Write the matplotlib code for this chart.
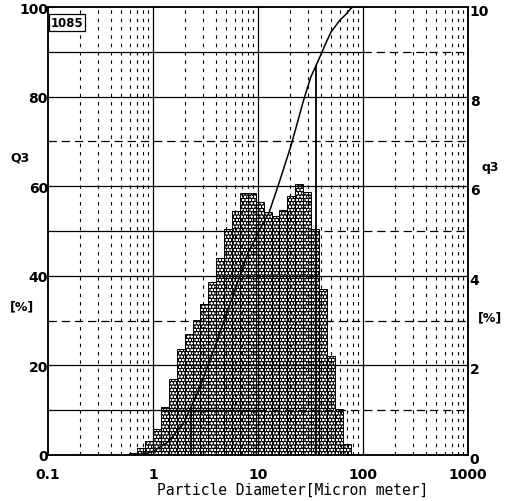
import numpy as np
import matplotlib
matplotlib.use("Agg")
import matplotlib.pyplot as plt

# ---------------- data ----------------
size_edges = [0.59, 0.71, 0.84, 1.00, 1.19, 1.41, 1.68, 2.00, 2.38, 2.83, 3.36,
              4.00, 4.76, 5.66, 6.73, 8.00, 9.51, 11.31, 13.45, 16.00, 19.03,
              22.63, 26.91, 32.00, 38.05, 45.25, 53.82, 64.00, 76.11]
q3_values = [0.05, 0.15, 0.32, 0.58, 1.07, 1.70, 2.37, 2.70, 3.02, 3.37, 3.86,
             4.40, 5.05, 5.45, 5.85, 5.85, 5.65, 5.42, 5.33, 5.47, 5.78, 6.05,
             5.87, 5.04, 3.70, 2.20, 1.03, 0.25]

curve_d = [0.59, 0.84, 1.0, 1.41, 2.0, 2.83, 4.0, 5.66, 8.0, 11.31, 12.7, 16.0,
           20.6, 27.4, 32.0, 38.1, 45.0, 49.6, 60.0, 68.9, 76.0, 80.0]
curve_Q3 = [0, 0.3, 0.8, 3.0, 7.5, 15.5, 25, 35, 45, 52, 54, 61,
            69, 79.5, 84.5, 88.4, 92.3, 94.4, 97, 98.4, 99.6, 100]

marker_d = [2.3, 35.7]          # x10 and x90 markers

x_ticks = [0.1, 1, 10, 100, 1000]
x_tick_labels = ["0.1", "1", "10", "100", "1000"]
left_ticks = [0, 20, 40, 60, 80, 100]
right_ticks = [0, 2, 4, 6, 8, 10]
sample_id = "1085"

# ---------------- styling ----------------
plt.rcParams["lines.scale_dashes"] = False
plt.rcParams["hatch.linewidth"] = 0.55
num_font = ["Liberation Sans Narrow", "DejaVu Sans"]

W, H = 506, 502
fig = plt.figure(figsize=(W / 100, H / 100), dpi=100)
ax = fig.add_axes([48 / W, 1 - 456 / H, 420 / W, 448 / H])
ax.set_xscale("log")
ax.set_xlim(0.1, 1000)
ax.set_ylim(0, 100)

# vertical grid
for dec in [0.1, 1, 10, 100]:
    for m in range(2, 10):
        ax.axvline(m * dec, color="black", lw=0.8, ls=(0, (2.5, 3.5)), zorder=1)
    if dec > 0.1:
        ax.axvline(dec, color="black", lw=0.9, zorder=1)

# horizontal grid
for lv in [20, 40, 60, 80]:
    ax.axhline(lv, color="black", lw=0.9, zorder=1)
for lv in [30, 70]:
    ax.axhline(lv, color="black", lw=0.9, ls=(0, (6, 3.5)), zorder=1)
for lv, split in [(10, 10), (50, 10), (90, 100)]:
    ax.hlines(lv, 0.1, split, color="black", lw=0.9, zorder=1)
    ax.hlines(lv, split, 1000, color="black", lw=0.9, ls=(0, (6, 3.5)), zorder=1)

# histogram on right axis
ax2 = ax.twinx()
ax2.set_ylim(0, 10)
lefts = np.array(size_edges[:-1])
widths = np.array(size_edges[1:]) - lefts
ax2.bar(lefts, q3_values, width=widths, align="edge", facecolor="#0a0a0a",
        edgecolor="white", hatch="ooooo", linewidth=0, zorder=2)
ax2.bar(lefts, q3_values, width=widths, align="edge", fill=False,
        edgecolor="black", linewidth=0.7, zorder=3)

# cumulative curve on left axis (drawn above bars)
ax.set_zorder(ax2.get_zorder() + 1)
ax.patch.set_visible(False)
ax.plot(curve_d, curve_Q3, color="black", lw=1.1, zorder=5)
for d in marker_d:
    top = np.interp(np.log10(d), np.log10(curve_d), curve_Q3)
    ax.vlines(d, 0, top, color="black", lw=1.3, zorder=5)

# ticks and labels
ax.set_xticks(x_ticks)
ax.set_xticklabels(x_tick_labels)
ax.xaxis.set_minor_locator(matplotlib.ticker.NullLocator())
ax.set_yticks(left_ticks)
ax.set_yticklabels([str(v) for v in left_ticks])
ax.tick_params(axis="x", length=0, pad=8.5)
ax.tick_params(axis="y", length=0, pad=0)
for lab in ax.get_xticklabels() + ax.get_yticklabels():
    lab.set_family(num_font)
    lab.set_fontsize(10)
    lab.set_fontweight("bold")

ax2.set_yticks(right_ticks)
ax2.set_yticklabels([])
ax2.tick_params(axis="y", length=0)
for v in right_ticks:
    ax2.text(1.004, v - 0.09, str(v), transform=ax2.get_yaxis_transform(),
             ha="left", va="center", fontsize=10, fontweight="bold", family=num_font)

for a in (ax, ax2):
    for s in a.spines.values():
        s.set_linewidth(1.1)

ax.text(0.046, 0.965, sample_id, transform=ax.transAxes, ha="center", va="center",
        fontsize=8.5, fontweight="bold", family=num_font,
        bbox=dict(boxstyle="square,pad=0.15", fc="white", ec="black", lw=0.9), zorder=6)

def ftext(x, y, s, **kw):
    fig.text(x / W, 1 - y / H, s, ha="center", va="center", **kw)

ftext(20, 158, "Q3", fontsize=9, family=num_font, fontweight="bold")
ftext(22, 307, "[%]", fontsize=9, family=num_font, fontweight="bold")
ftext(490, 168, "q3", fontsize=9, family=num_font, fontweight="bold")
ftext(490, 318, "[%]", fontsize=9, family=num_font, fontweight="bold")
ftext(293, 490, "Particle Diameter[Micron meter]", fontsize=10.5,
      family="DejaVu Sans Mono")

fig.savefig("out.png", dpi=100)
